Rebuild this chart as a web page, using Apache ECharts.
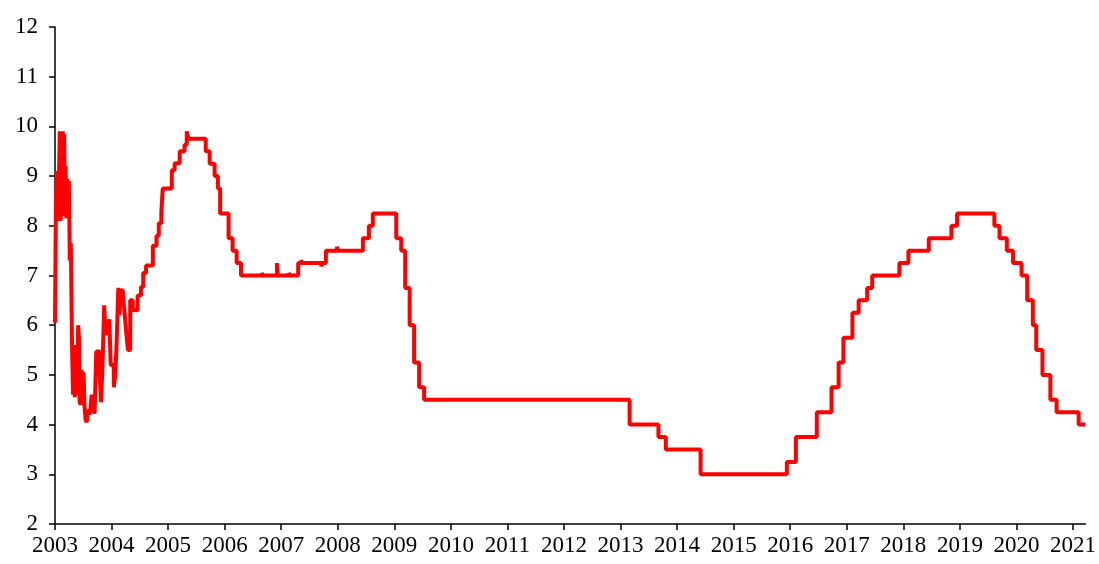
<!DOCTYPE html>
<html>

<head>
  <meta charset="utf-8">
  <title>Rate 2003-2021</title>
  <style>
    html, body { margin: 0; padding: 0; background: #fff; }
    #main { width: 1099px; height: 564px; }
  </style>
</head>

<body>
  <div id="main"></div>
  <script type="text/javascript" src="https://cdn.jsdelivr.net/npm/echarts@6/dist/echarts.min.js"></script>
  <script type="text/javascript">
    // x = decimal year, value = rate (%), step starts at x
    const years = [2003, 2004, 2005, 2006, 2007, 2008, 2009, 2010, 2011, 2012,
      2013, 2014, 2015, 2016, 2017, 2018, 2019, 2020, 2021];

    // noisy overnight period, 2003-2004
    const early = [
      [2003.000, 6.05], [2003.015, 8.3], [2003.035, 9.1], [2003.050, 8.1],
      [2003.070, 9.0], [2003.085, 9.9], [2003.100, 8.1], [2003.112, 9.85],
      [2003.125, 8.2], [2003.137, 9.9], [2003.150, 8.3], [2003.162, 9.85],
      [2003.175, 8.2], [2003.188, 9.2], [2003.200, 8.15], [2003.215, 8.95],
      [2003.232, 8.2], [2003.245, 8.9], [2003.262, 7.3], [2003.280, 7.65],
      [2003.300, 5.7], [2003.318, 4.6], [2003.334, 5.6], [2003.350, 4.55],
      [2003.365, 5.3], [2003.385, 4.6], [2003.410, 6.0], [2003.425, 5.7],
      [2003.435, 4.45], [2003.455, 4.4], [2003.470, 5.1], [2003.490, 4.4],
      [2003.505, 5.05], [2003.520, 4.4], [2003.540, 4.1], [2003.560, 4.05],
      [2003.590, 4.3], [2003.615, 4.2], [2003.650, 4.6], [2003.675, 4.4],
      [2003.700, 4.22], [2003.730, 5.47], [2003.790, 5.0], [2003.815, 4.45],
      [2003.840, 5.2], [2003.870, 6.4], [2003.895, 5.8], [2003.910, 6.1],
      [2003.935, 5.9], [2003.960, 6.12], [2003.985, 5.2], [2004.040, 4.75],
      [2004.065, 5.0], [2004.085, 5.5], [2004.120, 6.75], [2004.140, 6.2],
      [2004.160, 6.7], [2004.200, 6.65], [2004.230, 6.25], [2004.260, 5.85],
      [2004.290, 5.5], [2004.330, 6.5], [2004.375, 6.3], [2004.460, 6.6],
      [2004.520, 6.77], [2004.560, 7.05], [2004.610, 7.2]
    ];

    // stepwise period, 2004-2021
    const steps = [
      [2004.730, 7.6], [2004.795, 7.8], [2004.835, 8.05], [2004.880, 8.26],
      [2004.905, 8.75], [2005.065, 9.12], [2005.115, 9.26], [2005.205, 9.5],
      [2005.290, 9.63], [2005.330, 9.9], [2005.360, 9.75], [2005.665, 9.5],
      [2005.735, 9.25], [2005.822, 9.0], [2005.880, 8.75], [2005.920, 8.25],
      [2006.069, 7.75], [2006.140, 7.5], [2006.212, 7.25], [2006.289, 7.0],
      [2006.660, 7.05], [2006.680, 7.0], [2006.925, 7.25], [2006.940, 7.0],
      [2007.135, 7.05], [2007.150, 7.0], [2007.300, 7.25], [2007.350, 7.3],
      [2007.380, 7.25], [2007.710, 7.18], [2007.725, 7.25], [2007.790, 7.5],
      [2007.985, 7.58], [2008.000, 7.5], [2008.444, 7.75], [2008.550, 8.0],
      [2008.620, 8.25], [2009.034, 7.75], [2009.122, 7.5], [2009.192, 6.75],
      [2009.271, 6.0], [2009.350, 5.25], [2009.438, 4.75], [2009.527, 4.5],
      [2013.160, 4.0], [2013.670, 3.75], [2013.800, 3.5], [2014.415, 3.0],
      [2015.940, 3.25], [2016.100, 3.75], [2016.470, 4.25], [2016.730, 4.75],
      [2016.856, 5.25], [2016.940, 5.75], [2017.100, 6.25], [2017.210, 6.5],
      [2017.360, 6.75], [2017.450, 7.0], [2017.930, 7.25], [2018.090, 7.5],
      [2018.450, 7.75], [2018.850, 8.0], [2018.950, 8.25], [2019.610, 8.0],
      [2019.700, 7.75], [2019.830, 7.5], [2019.940, 7.25], [2020.090, 7.0],
      [2020.190, 6.5], [2020.290, 6.0], [2020.350, 5.5], [2020.460, 5.0],
      [2020.600, 4.5], [2020.710, 4.25], [2021.100, 4.0], [2021.220, 4.0]
    ];

    const font = 'Liberation Serif';

    const option = {
      animation: false,
      grid: { left: 55, right: 9, top: 27, bottom: 40 },
      xAxis: {
        type: 'value',
        min: 2003,
        max: 2021.22,
        splitLine: { show: false },
        axisLine: { lineStyle: { color: '#000', width: 1.5 } },
        axisTick: {
          customValues: years,
          length: 6,
          lineStyle: { color: '#000', width: 1.5 }
        },
        axisLabel: {
          customValues: years,
          formatter: v => String(v),
          color: '#000',
          fontFamily: font,
          fontSize: 23,
          margin: 10
        }
      },
      yAxis: {
        type: 'value',
        min: 2,
        max: 12,
        interval: 1,
        splitLine: { show: false },
        axisLine: { show: true, lineStyle: { color: '#000', width: 1.5 } },
        axisTick: { show: true, length: 6, lineStyle: { color: '#000', width: 1.5 } },
        axisLabel: {
          color: '#000',
          fontFamily: font,
          fontSize: 23,
          margin: 17
        }
      },
      series: [{
        type: 'line',
        step: 'end',
        showSymbol: false,
        data: early.concat(steps),
        lineStyle: { color: '#ff0000', width: 4 },
        itemStyle: { color: '#ff0000' }
      }]
    };

    var myChart = echarts.init(document.getElementById('main'));
    myChart.setOption(option);
  </script>
</body>

</html>
